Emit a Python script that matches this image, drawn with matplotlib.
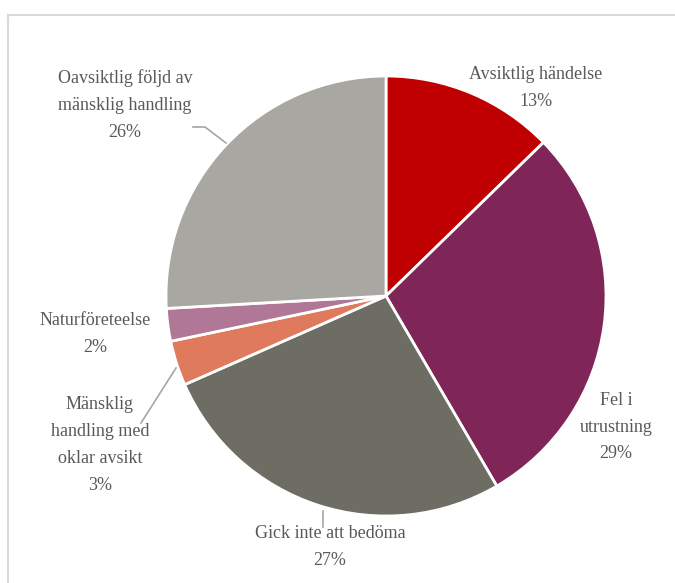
import matplotlib
matplotlib.use("Agg")
import matplotlib.pyplot as plt
from matplotlib.lines import Line2D

categories = ["Avsiktlig händelse", "Fel i\nutrustning", "Gick inte att bedöma",
              "Mänsklig\nhandling med\noklar avsikt", "Naturföreteelse",
              "Oavsiktlig följd av\nmänsklig handling"]
values = [12.7, 28.9, 26.8, 3.3, 2.4, 25.9]
pct_labels = ["13%", "29%", "27%", "3%", "2%", "26%"]
colors = ["#C00000", "#7F2557", "#6E6D64", "#E07A5C", "#B07896", "#A9A7A2"]

W, H = 675, 583
fig = plt.figure(figsize=(W / 100, H / 100), dpi=100)
ax = fig.add_axes([0, 0, 1, 1])
ax.set_xlim(0, W)
ax.set_ylim(0, H)
ax.set_aspect("equal")
ax.axis("off")

cx, cy, r = 386, H - 296, 220
ax.pie(values, colors=colors, startangle=90, counterclock=False,
       center=(cx, cy), radius=r, frame=True,
       wedgeprops=dict(edgecolor="white", linewidth=2))
ax.set_xlim(0, W)
ax.set_ylim(0, H)
ax.axis("off")

font = dict(family=["Liberation Serif", "DejaVu Serif"], fontsize=13,
            color="#595959", ha="center", va="center", linespacing=1.75)
label_pos = [(536, 88), (616, 427), (330, 547), (100, 445), (95, 334), (125, 105)]
for name, p, (x, y) in zip(categories, pct_labels, label_pos):
    ax.text(x, H - y, f"{name}\n{p}", **font)

# leader lines
lc = "#A6A6A6"
ax.plot([322.5, 322.5], [H - 511, H - 527], color=lc, lw=1.2)
ax.plot([176, 141], [H - 368, H - 423], color=lc, lw=1.2)
ax.plot([193, 205, 226], [H - 127, H - 127, H - 143], color=lc, lw=1.2)

# frame
fig.add_artist(Line2D([7.5 / W, 1], [1 - 14.5 / H, 1 - 14.5 / H], color="#D9D9D9", lw=1.5,
                      transform=fig.transFigure))
fig.add_artist(Line2D([7.5 / W, 7.5 / W], [0, 1 - 14.5 / H], color="#D9D9D9", lw=1.5,
                      transform=fig.transFigure))

fig.savefig("out.png", dpi=100)
